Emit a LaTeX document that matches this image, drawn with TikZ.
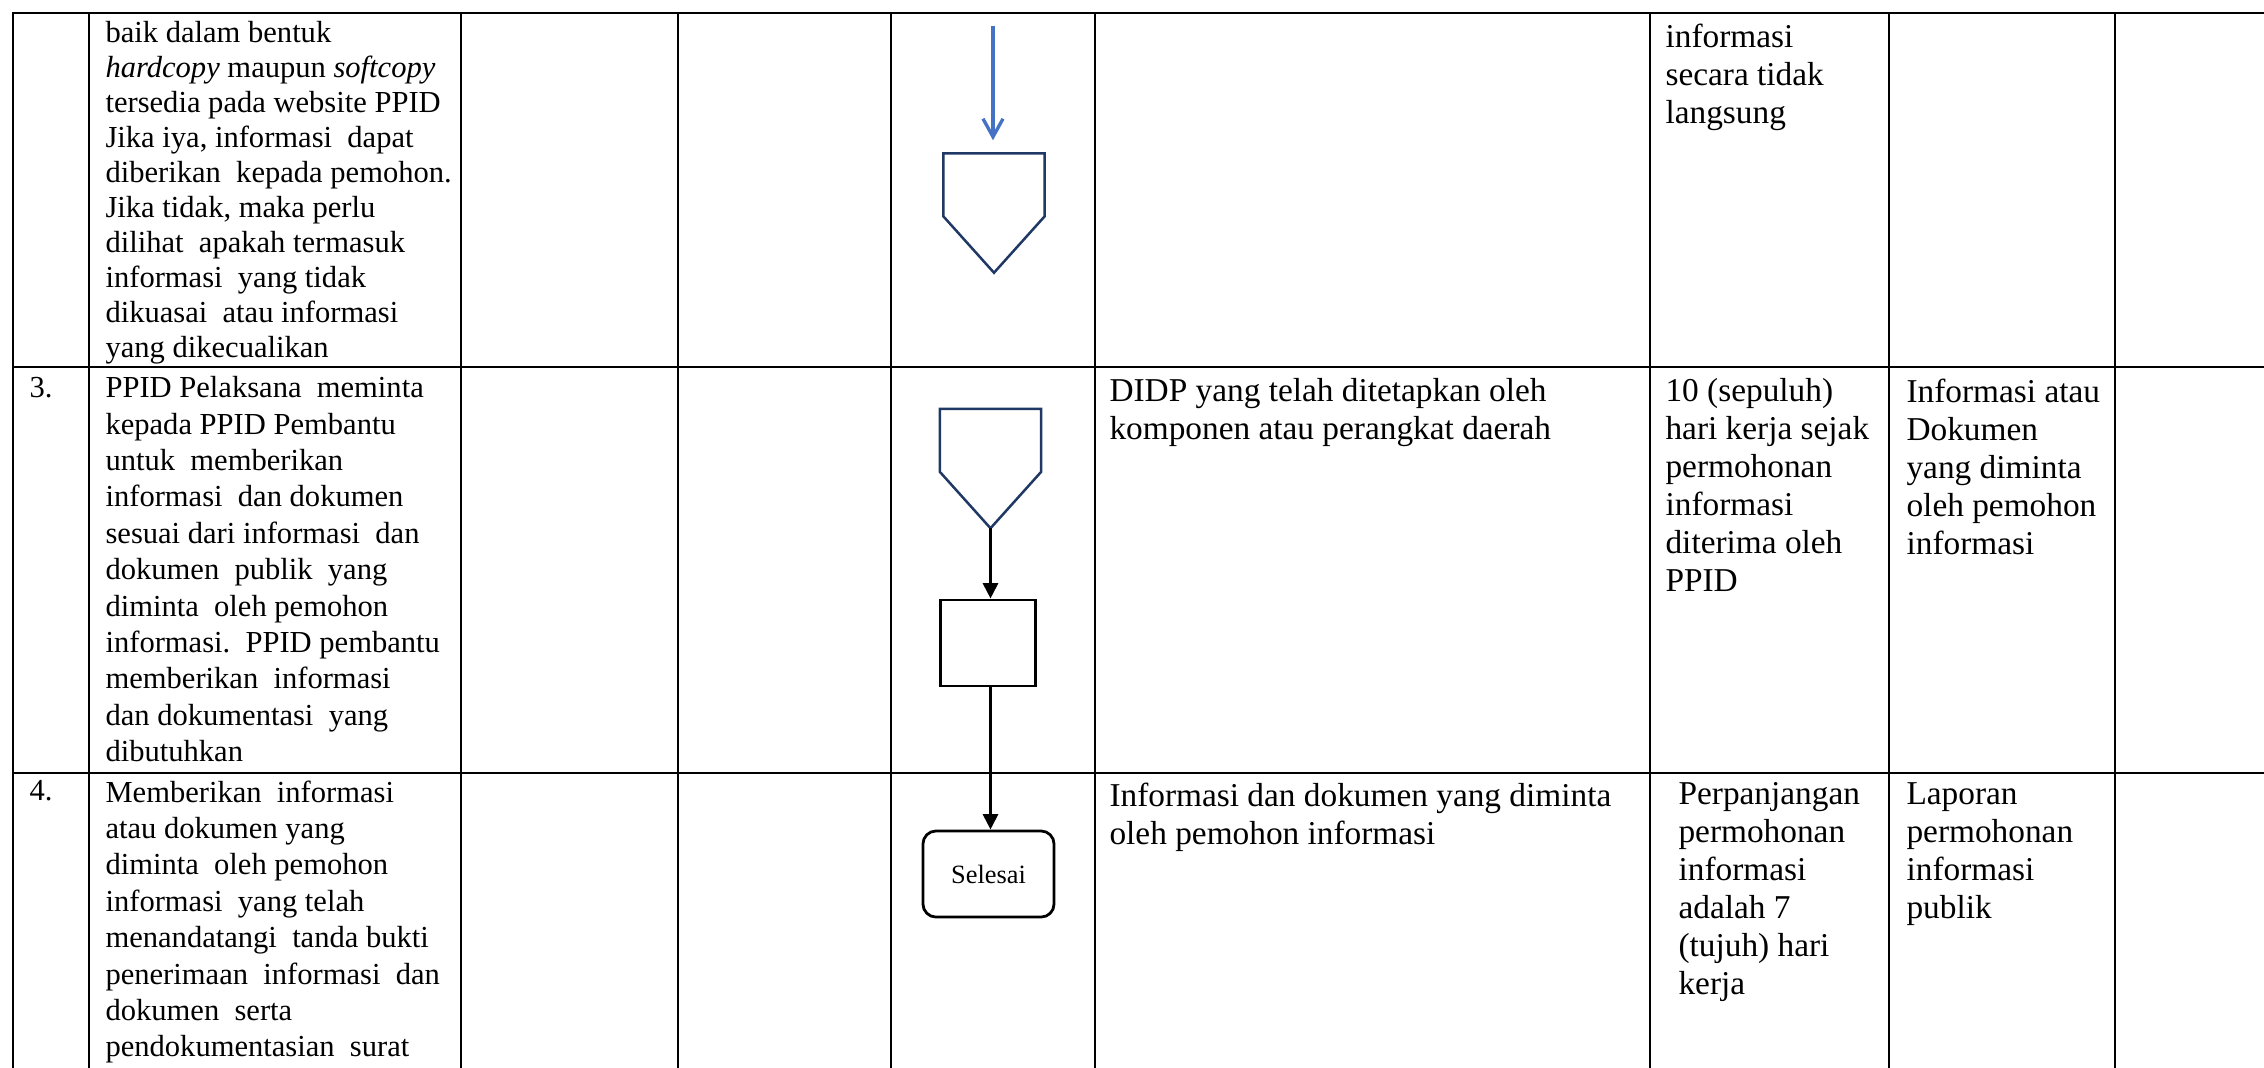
\documentclass[tikz,border=0pt]{standalone}
\usepackage{fontspec}
\setmainfont{Liberation Serif}
\usetikzlibrary{positioning,arrows.meta,calc}

\definecolor{connblue}{HTML}{4472C4}
\definecolor{connnavy}{HTML}{203864}

\begin{document}
\begin{tikzpicture}[x=0.36pt, y=-0.36pt,
    tableline/.style={line width=0.95pt, line cap=rect},
    cell/.style={anchor=north west, inner sep=0pt, align=left},
    left cell/.style={cell, font=\fontsize{11}{13.1}\selectfont},
    right cell/.style={cell, font=\fontsize{12}{13.7}\selectfont},
    offpage/.style={draw=none, minimum width=36.5pt, minimum height=43pt, inner sep=0pt, outer sep=0pt},
    process/.style={draw, line width=1pt, minimum width=34.2pt, minimum height=31pt, inner sep=0pt},
    terminal/.style={draw, line width=1pt, rounded corners=4.7pt, minimum width=47.2pt, minimum height=31pt, inner sep=0pt, font=\fontsize{9.5}{11}\selectfont},
    flow/.style={-{Triangle[length=5.6pt,width=5.4pt]}, line width=1.15pt}]
   \useasboundingbox (0,0) rectangle (2264,1067);

   % table
   \foreach \x in {13,89,461,678,891,1095,1650,1889,2115}
      \draw[tableline] (\x,13) -- (\x,1067);
   \foreach \y in {13,367,773}
      \draw[tableline] (13,\y) -- (2264,\y);

   % row 2 (continued)
   \node[left cell, font=\fontsize{11}{12.6}\selectfont] (desc2) at (105,21)
      {baik dalam bentuk\\ \textit{hardcopy} maupun \textit{softcopy}\\ tersedia pada website PPID\\
       Jika iya, informasi\ \ dapat\\ diberikan\ \ kepada pemohon.\\ Jika tidak, maka perlu\\
       dilihat\ \ apakah termasuk\\ informasi\ \ yang tidak\\ dikuasai\ \ atau informasi\\ yang dikecualikan};
   \node[right cell] (time2) at (1665,23) {informasi\\ secara tidak\\ langsung};

   % row 3
   \node[left cell] (num3) at (29,377) {3.};
   \node[left cell] (desc3) at (105,376)
      {PPID Pelaksana\ \ meminta\\ kepada PPID Pembantu\\ untuk\ \ memberikan\\ informasi\ \ dan dokumen\\
       sesuai dari informasi\ \ dan\\ dokumen\ \ publik\ \ yang\\ diminta\ \ oleh pemohon\\
       informasi.\ \ PPID pembantu\\ memberikan\ \ informasi\\ dan dokumentasi\ \ yang\\ dibutuhkan};
   \node[right cell] (req3) at (1109,378) {DIDP yang telah ditetapkan oleh\\ komponen atau perangkat daerah};
   \node[right cell] (time3) at (1665,378) {10 (sepuluh)\\ hari kerja sejak\\ permohonan\\ informasi\\ diterima oleh\\ PPID};
   \node[right cell] (out3) at (1906,378) {Informasi atau\\ Dokumen\\ yang diminta\\ oleh pemohon\\ informasi};

   % row 4
   \node[left cell] (num4) at (29,780) {4.};
   \node[left cell] (desc4) at (105,780)
      {Memberikan\ \ informasi\\ atau dokumen yang\\ diminta\ \ oleh pemohon\\ informasi\ \ yang telah\\
       menandatangi\ \ tanda bukti\\ penerimaan\ \ informasi\ \ dan\\ dokumen\ \ serta\\ pendokumentasian\ \ surat};
   \node[right cell] (req4) at (1109,782) {Informasi dan dokumen yang diminta\\ oleh pemohon informasi};
   \node[right cell] (time4) at (1678,782) {Perpanjangan\\ permohonan\\ informasi\\ adalah 7\\ (tujuh) hari\\ kerja};
   \node[right cell] (out4) at (1906,782) {Laporan\\ permohonan\\ informasi\\ publik};

   % flow
   \coordinate (flowin) at (993,26);
   \node[offpage] (off1) at (994,213) {};
   \node[offpage] (off2) at (990.5,468.5) {};
   \node[process] (docs) at (988,643) {};
   \node[terminal] (done) at (988.5,874) {Selesai};
   \foreach \c in {off1,off2}
      \draw[connnavy, line width=0.9pt, fill=white]
         (\c.north west) -- (\c.north east) -- ($(\c.north east)+(0,63)$)
         -- (\c.south) -- ($(\c.north west)+(0,63)$) -- cycle;

   \draw[connblue, line width=1.2pt, -{Straight Barb[length=6.5pt,width=7.2pt]}, shorten >=4.7pt]
      (flowin) -- (flowin |- off1.north);
   \draw[flow] (off2.south) -- (off2.south |- docs.north);
   \draw[flow] (off2.south |- docs.south) -- (off2.south |- done.north);
\end{tikzpicture}
\end{document}
